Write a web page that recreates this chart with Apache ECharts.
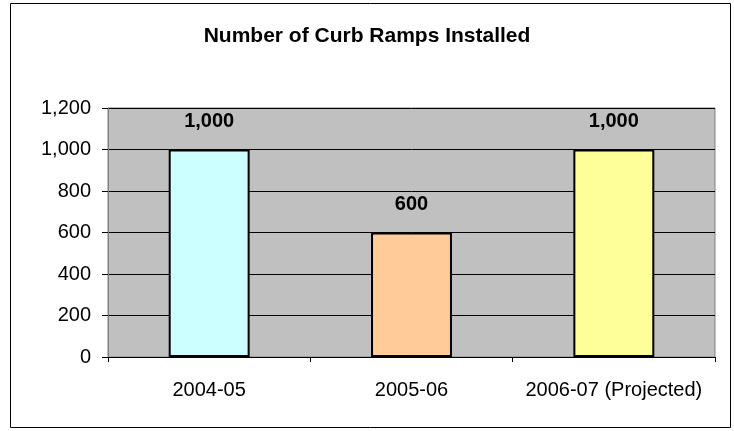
<!DOCTYPE html>
<html>
<head>
<meta charset="utf-8">
<script src="https://cdn.jsdelivr.net/npm/echarts@6/dist/echarts.min.js"></script>
<style>
  html, body { margin: 0; padding: 0; background: #fff; }
  #chart { width: 734px; height: 431px; }
</style>
</head>
<body>
<div id="chart"></div>
<script>
// data
const categories = ['2004-05', '2005-06', '2006-07 (Projected)'];
const ramps = [1000, 600, 1000];
const barColors = ['#CCFFFF', '#FFCC99', '#FFFF99'];

const myChart = echarts.init(document.getElementById('chart'));

const fmt = v => v.toLocaleString('en-US');

const options = {
  backgroundColor: '#fff',
  textStyle: { fontFamily: 'Liberation Sans, Arial, sans-serif' },
  // outer chart border
  graphic: [{
    type: 'rect',
    shape: { x: 10.5, y: 3.5, width: 720, height: 424 },
    style: { fill: 'none', stroke: '#000', lineWidth: 1 },
    silent: true
  }],
  title: {
    text: 'Number of Curb Ramps Installed',
    left: 'center',
    top: 21,
    textStyle: { fontSize: 21, fontWeight: 'bold', color: '#000' }
  },
  grid: {
    left: 108, top: 108, right: 19, bottom: 74,
    show: true,
    backgroundColor: '#C0C0C0',
    borderColor: '#808080',
    borderWidth: 1
  },
  xAxis: {
    type: 'category',
    data: categories,
    axisLine: { lineStyle: { color: '#000' } },
    axisTick: { show: true, length: 5, lineStyle: { color: '#000' } },
    axisLabel: { color: '#000', fontSize: 20, margin: 23, interval: 0, hideOverlap: false }
  },
  yAxis: {
    type: 'value',
    min: 0, max: 1200, interval: 200,
    axisLine: { show: true, lineStyle: { color: '#808080' } },
    axisTick: { show: true, length: 6, lineStyle: { color: '#000' } },
    axisLabel: { color: '#000', fontSize: 20, margin: 17, formatter: fmt },
    splitLine: { lineStyle: { color: '#000', width: 1 } }
  },
  series: [{
    type: 'bar',
    barWidth: '40%',
    data: ramps.map((v, i) => ({
      value: v,
      itemStyle: { color: barColors[i] }
    })),
    itemStyle: { borderColor: '#000', borderWidth: 2 },
    label: {
      show: true,
      position: 'top',
      distance: 18,
      color: '#000',
      fontSize: 20,
      fontWeight: 'bold',
      formatter: p => fmt(p.value)
    }
  }]
};

myChart.setOption(options);
</script>
</body>
</html>
